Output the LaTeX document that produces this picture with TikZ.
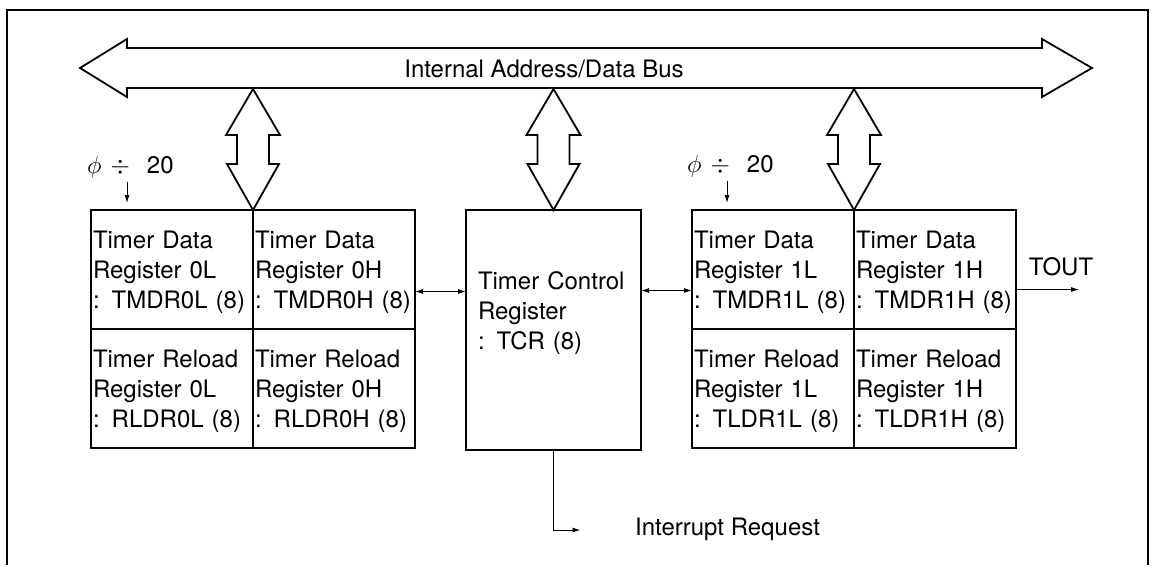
\documentclass[tikz,border=0pt]{standalone}
\usepackage{fontspec}
\setmainfont{TeX Gyre Heros}
\usepackage{tikz}
\usetikzlibrary{arrows.meta, positioning, calc}

\begin{document}
\begin{tikzpicture}[
    x=1pt, y=-1pt,
    reg/.style={rectangle, draw, line width=2pt, outer sep=0pt, inner xsep=2pt, inner ysep=0pt, text width=158pt, align=left, text height=38pt, text depth=81pt, font=\fontsize{24}{30}\selectfont},
    ctrl/.style={reg, inner xsep=12pt, text width=151pt, text height=79pt, text depth=161pt},
    lbl/.style={inner sep=0pt, font=\fontsize{24}{30}\selectfont},
    wide/.style={line width=1.8pt, line join=miter},
    link/.style={{Latex[length=8pt,width=5pt]}-{Latex[length=8pt,width=5pt]}, line width=1pt},
    sig/.style={-{Latex[length=8pt,width=5pt]}, line width=1pt}
]
    \useasboundingbox (0,0) rectangle (1153,565);
    % frame, open at the bottom
    \draw[wide] (7,565) -- (7,10) -- (1148,10) -- (1148,565);

    % internal bus
    \draw[wide] (80,68) -- (127,39) -- (127,48) -- (1042,48) -- (1042,39) -- (1092,68)
        -- (1042,97) -- (1042,88) -- (127,88) -- (127,97) -- cycle;
    \node[lbl, anchor=base] (buslbl) at (544,77) {Internal Address/Data Bus};

    % timer 0
    \node[reg, anchor=north west] (tmdr0l) at (91,210) {Timer Data\\Register 0L\\: TMDR0L (8)};
    \node[reg, right=0pt of tmdr0l] (tmdr0h) {Timer Data\\Register 0H\\: TMDR0H (8)};
    \node[reg, below=0pt of tmdr0l] (rldr0l) {Timer Reload\\Register 0L\\: RLDR0L (8)};
    \node[reg, below=0pt of tmdr0h] (rldr0h) {Timer Reload\\Register 0H\\: RLDR0H (8)};

    % control register
    \node[ctrl, right=51pt of tmdr0h.north east, anchor=north west] (tcr) {Timer Control\\Register\\: TCR (8)};

    % timer 1
    \node[reg, right=51pt of tcr.north east, anchor=north west] (tmdr1l) {Timer Data\\Register 1L\\: TMDR1L (8)};
    \node[reg, right=0pt of tmdr1l] (tmdr1h) {Timer Data\\Register 1H\\: TMDR1H (8)};
    \node[reg, below=0pt of tmdr1l] (tldr1l) {Timer Reload\\Register 1L\\: TLDR1L (8)};
    \node[reg, below=0pt of tmdr1h] (tldr1h) {Timer Reload\\Register 1H\\: TLDR1H (8)};

    % bus taps
    \foreach \a in {tmdr0l.north east, tcr.north, tmdr1l.north east}
        \draw[wide] (\a) -- ++(-26,-46) -- ++(10,0) -- ++(0,-29) -- ++(-11,0) -- ++(27,-46)
            -- ++(27,46) -- ++(-11,0) -- ++(0,29) -- ++(10,0) -- cycle;

    % clock inputs
    \node[lbl, anchor=base west] (clk0) at (87,173) {$\phi$\hspace{9pt}$\div$\hspace{17pt}20};
    \node[lbl, anchor=base west] (clk1) at (687,172) {$\phi$\hspace{9pt}$\div$\hspace{17pt}20};
    \draw[sig] ($(clk0.base west)+(40,9)$) -- ++(0,21);
    \draw[sig] ($(clk1.base west)+(40,9)$) -- ++(0,22);

    \draw[link] ([yshift=-22pt]tmdr0h.east) -- ([yshift=-22pt]tmdr0h.east -| tcr.west);
    \draw[link] ([yshift=-21pt]tmdr1l.west -| tcr.east) -- ([yshift=-21pt]tmdr1l.west);

    \draw[sig] ([yshift=-20pt]tmdr1h.east) -- ++(63,0) coordinate (toutend);
    \node[lbl, anchor=base] (tout) at (1061,275) {TOUT};

    \draw[sig] (tcr.south) |- ++(27,80) coordinate (irqend);
    \node[lbl, anchor=base west] (irq) at (635,535) {Interrupt Request};
\end{tikzpicture}
\end{document}
